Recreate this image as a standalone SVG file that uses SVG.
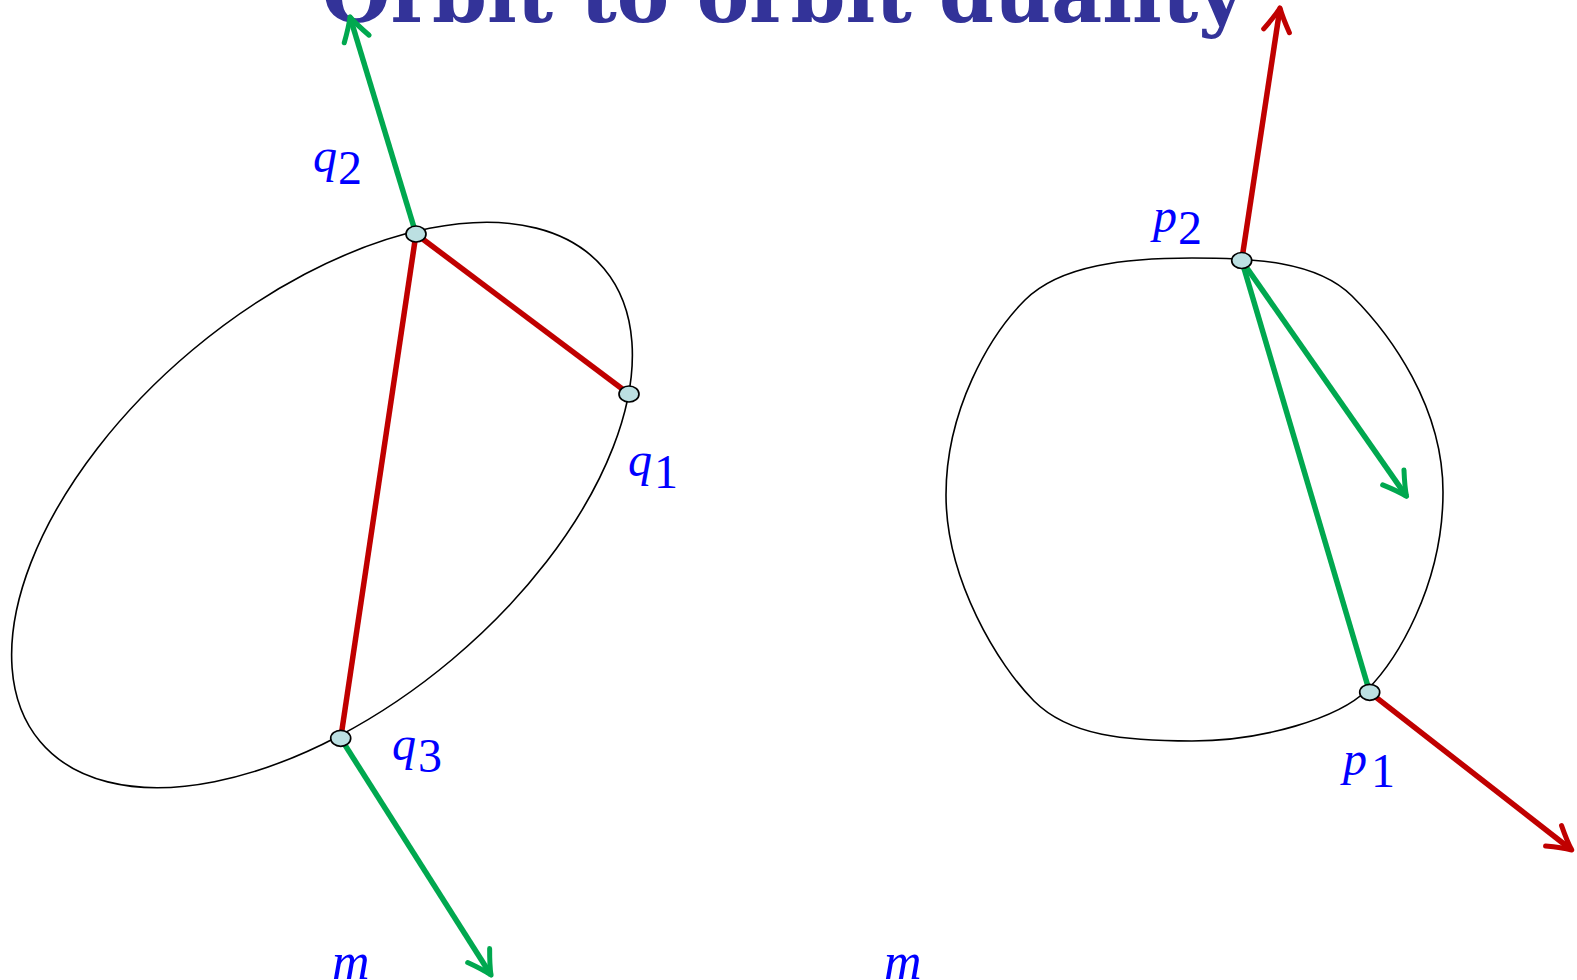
<svg xmlns="http://www.w3.org/2000/svg" width="1577" height="980" viewBox="0 0 1577 980">
<style>
.orbit{fill:none;stroke:#000;stroke-width:1.6}
.red{stroke:#c00000;stroke-width:5.5;fill:none}
.green{stroke:#00a84f;stroke-width:5.5;fill:none}
.node{fill:#bce0e2;stroke:#000;stroke-width:1.7}
.lbl{font-family:"Liberation Serif","DejaVu Serif",serif;font-size:48px;fill:#0000ff}
.it{font-style:italic}
.title{font-family:"DejaVu Serif","Liberation Serif",serif;font-weight:bold;font-size:78px;fill:#333399}
</style>
<defs>
<marker id="ag" markerUnits="userSpaceOnUse" orient="auto" overflow="visible" markerWidth="1" markerHeight="1" refX="0" refY="0">
<path d="M-23,-13 Q-9,-4 0,0 M-23,13 Q-9,4 0,0" fill="none" stroke="#00a84f" stroke-width="5" stroke-linecap="round" stroke-linejoin="round"/>
</marker>
<marker id="ar" markerUnits="userSpaceOnUse" orient="auto" overflow="visible" markerWidth="1" markerHeight="1" refX="0" refY="0">
<path d="M-23,-13 Q-9,-4 0,0 M-23,13 Q-9,4 0,0" fill="none" stroke="#c00000" stroke-width="5" stroke-linecap="round" stroke-linejoin="round"/>
</marker>
</defs>
<rect width="1577" height="980" fill="#fff"/>
<text class="title" x="322" y="22" textLength="922" lengthAdjust="spacingAndGlyphs">Orbit to orbit duality</text>
<g id="orbit-left">
<ellipse class="orbit" cx="0" cy="0" rx="368" ry="202" transform="translate(322,505) rotate(-40)"/>
</g>
<g id="orbit-right">
<path class="orbit" d="M1192,258 C1252,258 1316.6,260.6 1352,296 C1390.9,334.9 1443,407 1443,492 C1443,587 1395.3,661.7 1367,690 C1338.7,718.3 1262,741 1192,741 C1127,741 1069.4,736.4 1034,701 C998.6,665.6 946,580 946,495 C946,410 989.6,335.4 1025,300 C1060.4,264.6 1127,258 1192,258 Z"/>
</g>
<g id="connectors">
<line class="red" x1="416" y1="234" x2="629" y2="394"/>
<line class="red" x1="416" y1="234" x2="340.7" y2="738.3"/>
<line class="green" x1="416" y1="234" x2="350" y2="17" marker-end="url(#ag)"/>
<line class="green" x1="340.7" y1="738.3" x2="491" y2="975" marker-end="url(#ag)"/>
<line class="red" x1="1241.7" y1="260.5" x2="1280" y2="8" marker-end="url(#ar)"/>
<line class="green" x1="1241.7" y1="260.5" x2="1369.7" y2="692.3"/>
<line class="green" x1="1241.7" y1="260.5" x2="1406.5" y2="496.3" marker-end="url(#ag)"/>
<line class="red" x1="1369.7" y1="692.3" x2="1571.7" y2="850" marker-end="url(#ar)"/>
</g>
<g id="q1">
<ellipse class="node" cx="629" cy="394" rx="10" ry="8"/>
<text class="lbl it" x="628" y="476">q</text><text class="lbl" x="654" y="488">1</text>
</g>
<g id="q2">
<ellipse class="node" cx="416" cy="234" rx="10" ry="8"/>
<text class="lbl it" x="313" y="172">q</text><text class="lbl" x="338" y="184">2</text>
</g>
<g id="q3">
<ellipse class="node" cx="340.7" cy="738.3" rx="10" ry="8"/>
<text class="lbl it" x="392" y="760">q</text><text class="lbl" x="418" y="772">3</text>
</g>
<g id="p2">
<ellipse class="node" cx="1241.7" cy="260.5" rx="10" ry="8"/>
<text class="lbl it" x="1153" y="232">p</text><text class="lbl" x="1178" y="244">2</text>
</g>
<g id="p1">
<ellipse class="node" cx="1369.7" cy="692.3" rx="10" ry="8"/>
<text class="lbl it" x="1343" y="775">p</text><text class="lbl" x="1371" y="787">1</text>
</g>
<g id="m-left">
<text class="lbl it" x="332" y="979" style="font-size:52px">m</text>
</g>
<g id="m-right">
<text class="lbl it" x="884" y="979" style="font-size:52px">m</text>
</g>
</svg>
